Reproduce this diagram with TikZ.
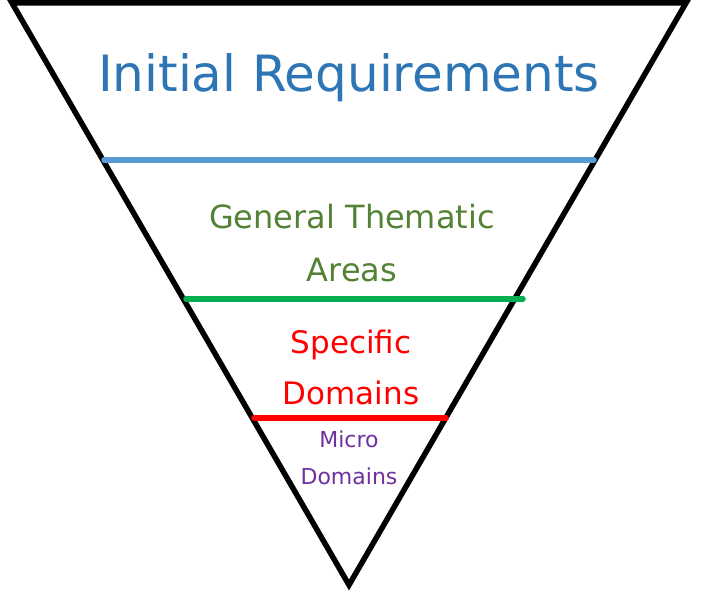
\documentclass[tikz,border=0pt]{standalone}
\usepackage{fontspec}
\setmainfont{DejaVu Sans}
\definecolor{reqblue}{HTML}{2E75B6}
\definecolor{reqline}{HTML}{5B9BD5}
\definecolor{areagreen}{HTML}{548235}
\definecolor{arealine}{HTML}{00B050}
\definecolor{domred}{HTML}{FF0000}
\definecolor{micropurple}{HTML}{7030A0}
\begin{document}
\begin{tikzpicture}[x=1pt,y=-1pt,
	divider/.style={line width=5.5pt,line cap=round},
	tier/.style={align=center,inner sep=0pt}]
	\useasboundingbox (0,0) rectangle (707,593);
	% funnel outline
	\coordinate (topleft) at (12,3);
	\coordinate (topright) at (686,3);
	\coordinate (tip) at (349,585);
	\draw[line width=5.5pt] (topleft) -- (topright) -- (tip) -- cycle;
	% dividers
	\coordinate (reqL) at (104,160);
	\coordinate (reqR) at (594,160);
	\coordinate (areaL) at (186,299);
	\coordinate (areaR) at (523,299);
	\coordinate (domL) at (254,418);
	\coordinate (domR) at (446,418);
	\draw[divider,reqline] (reqL) -- (reqR);
	\draw[divider,arealine] (areaL) -- (areaR);
	\draw[divider,domred] (domL) -- (domR);
	% labels
	\node[tier,text=reqblue,font=\fontsize{50}{56}\selectfont] (initial) at (349,78) {Initial Requirements};
	\node[tier,text=areagreen,font=\fontsize{32}{53}\selectfont] (general) at (352,243) {General Thematic\\Areas};
	\node[tier,text=domred,font=\fontsize{31}{51}\selectfont] (specific) at (351,367) {Specific\\Domains};
	\node[tier,text=micropurple,font=\fontsize{22}{37}\selectfont] (micro) at (349,458) {Micro\\Domains};
\end{tikzpicture}
\end{document}
